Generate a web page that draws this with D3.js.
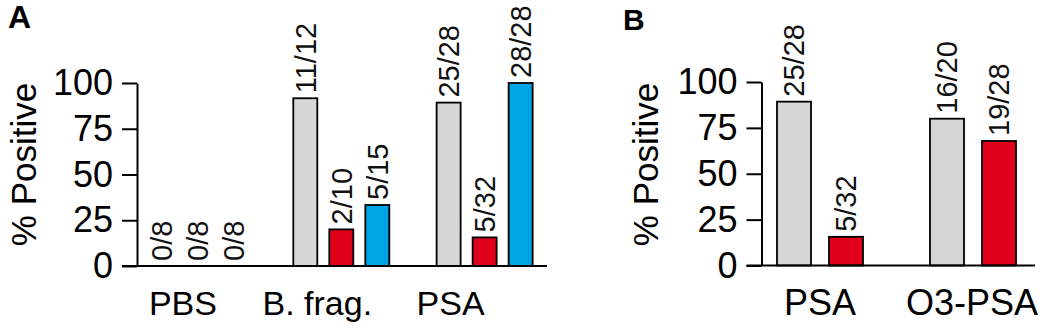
<!DOCTYPE html>
<html>
<head>
<meta charset="utf-8">
<script src="https://cdn.jsdelivr.net/npm/d3@7"></script>
<style>
  html, body { margin: 0; padding: 0; background: #fff; }
  svg { display: block; font-family: "Liberation Sans", Arial, Helvetica, sans-serif; }
</style>
</head>
<body>
<svg id="chart"></svg>
<script>
// Panel A: positives / totals per group, one entry per bar series
const groupsA = ['PBS', 'B. frag.', 'PSA'];
const seriesA = ['grey', 'red', 'blue'];
const positivesA = [[0, 0, 0], [11, 2, 5], [25, 5, 28]];
const totalsA = [[8, 8, 8], [12, 10, 15], [28, 32, 28]];

// Panel B
const groupsB = ['PSA', 'O3-PSA'];
const seriesB = ['grey', 'red'];
const positivesB = [[25, 5], [16, 19]];
const totalsB = [[28, 32], [20, 28]];

const yTicks = [0, 25, 50, 75, 100];

const COLORS = { grey: '#d6d6d6', red: '#e0001b', blue: '#00a3e4' };

const width = 1050, height = 335;
const svg = d3.select('#chart')
  .attr('width', width)
  .attr('height', height)
  .attr('viewBox', `0 0 ${width} ${height}`);

function drawPanel(cfg) {
  const g = svg.append('g');

  const y = d3.scaleLinear().domain([0, 100]).range([cfg.y0, cfg.y1]);

  const x = d3.scaleBand()
    .domain(cfg.groups)
    .range(cfg.groupRange)
    .padding(0);

  const inner = d3.scaleBand()
    .domain(cfg.series)
    .range([-cfg.innerHalf, cfg.innerHalf])
    .paddingInner(cfg.padIn)
    .paddingOuter(cfg.padIn / 2);

  const bars = [];
  cfg.groups.forEach((grp, gi) => {
    cfg.series.forEach((s, si) => {
      const pos = cfg.positives[gi][si];
      const tot = cfg.totals[gi][si];
      bars.push({ grp, s, pos, tot, pct: pos / tot * 100 });
    });
  });

  const cx = d => x(d.grp) + x.bandwidth() / 2 + inner(d.s);

  // bars
  g.selectAll('rect.bar')
    .data(bars.filter(d => d.pct > 0))
    .join('rect')
    .attr('class', 'bar')
    .attr('x', cx)
    .attr('y', d => y(d.pct))
    .attr('width', inner.bandwidth())
    .attr('height', d => y(0) - y(d.pct))
    .attr('fill', d => COLORS[d.s])
    .attr('stroke', '#000')
    .attr('stroke-width', 1.8);

  // n/N labels, rotated
  g.selectAll('text.val')
    .data(bars)
    .join('text')
    .attr('class', 'val')
    .attr('transform', d => `translate(${cx(d) + inner.bandwidth() / 2},${y(d.pct) - 5}) rotate(-90)`)
    .attr('dy', '0.36em')
    .attr('text-anchor', 'start')
    .attr('font-size', 29)
    .attr('fill', '#111')
    .text(d => `${d.pos}/${d.tot}`);

  // y axis
  const yAxis = g.append('g')
    .attr('transform', `translate(${cfg.axisX},0)`)
    .call(d3.axisLeft(y).tickValues(yTicks).tickSize(15).tickSizeOuter(0).tickPadding(9));
  yAxis.selectAll('path, line').attr('stroke', '#000').attr('stroke-width', 2);
  yAxis.selectAll('text')
    .attr('font-size', 36)
    .attr('font-family', '"Liberation Sans", Arial, sans-serif')
    .attr('fill', '#000');

  // baseline
  g.append('line')
    .attr('x1', cfg.axisX - 15)
    .attr('x2', cfg.lineEnd)
    .attr('y1', y(0))
    .attr('y2', y(0))
    .attr('stroke', '#000')
    .attr('stroke-width', 2);

  // category labels
  g.selectAll('text.cat')
    .data(cfg.groups)
    .join('text')
    .attr('class', 'cat')
    .attr('x', (d, i) => x(d) + x.bandwidth() / 2 + cfg.labelDx[i])
    .attr('y', 315)
    .attr('text-anchor', 'middle')
    .attr('font-size', cfg.catSize)
    .attr('fill', '#000')
    .text(d => d);

  // y label
  g.append('text')
    .attr('transform', `translate(${cfg.titleX},164.5) rotate(-90)`)
    .attr('text-anchor', 'middle')
    .attr('font-size', 35)
    .attr('fill', '#000')
    .text('% Positive');

  // panel letter
  g.append('text')
    .attr('x', cfg.letterX)
    .attr('y', cfg.letterY)
    .attr('font-size', cfg.letterSize)
    .attr('font-weight', 'bold')
    .attr('fill', '#000')
    .text(cfg.letter);
}

drawPanel({
  letter: 'A', letterX: 8, letterY: 28, letterSize: 32,
  groups: groupsA, series: seriesA,
  positives: positivesA, totals: totalsA,
  y0: 266, y1: 83,
  groupRange: [126.3, 556.3],
  innerHalf: 54, padIn: 1 / 3,
  axisX: 137, lineEnd: 547,
  labelDx: [-15, -24, -34],
  catSize: 34,
  titleX: 36
});

drawPanel({
  letter: 'B', letterX: 623, letterY: 30, letterSize: 30,
  groups: groupsB, series: seriesB,
  positives: positivesB, totals: totalsB,
  y0: 265.5, y1: 82,
  groupRange: [743.5, 1049.5],
  innerHalf: 52, padIn: 18 / 52,
  axisX: 761.5, lineEnd: 1035,
  labelDx: [0, -1],
  catSize: 36,
  titleX: 658
});
</script>
</body>
</html>
